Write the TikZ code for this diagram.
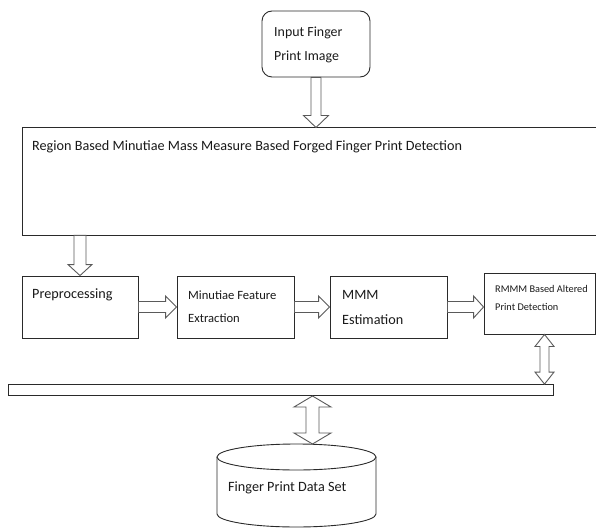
\documentclass[tikz,border=0pt]{standalone}
\usepackage{fontspec}
\setmainfont{Carlito}
\usetikzlibrary{calc}
\definecolor{boxline}{HTML}{2A2A2A}
\definecolor{arrline}{HTML}{5A5A5A}
\definecolor{txt}{HTML}{1A1A1A}
\tikzset{
  boxstyle/.style={draw=boxline, line width=0.9pt, fill=white, inner sep=0pt},
  blk/.style={draw=arrline, line width=0.9pt, fill=white, line join=miter},
  lbl/.style={anchor=west, inner sep=0pt, text=txt, font=\fontsize{14.2}{16}\selectfont},
  lblsmall/.style={lbl, font=\fontsize{12.6}{15}\selectfont},
  lbltiny/.style={lbl, font=\fontsize{10.3}{12}\selectfont},
}
\newcommand\arrowdown[5]{%
  \draw[blk] let \p1=(#1), \p2=(#2) in
   (\x1-#3,\y1) -- (\x1-#3,\y2+#5) -- (\x1-#4,\y2+#5) -- (\x1,\y2) --
   (\x1+#4,\y2+#5) -- (\x1+#3,\y2+#5) -- (\x1+#3,\y1) -- cycle;}
\newcommand\arrowright[5]{%
  \draw[blk] let \p1=(#1), \p2=(#2) in
   (\x1,\y1+#3) -- (\x2-#5,\y1+#3) -- (\x2-#5,\y1+#4) -- (\x2,\y1) --
   (\x2-#5,\y1-#4) -- (\x2-#5,\y1-#3) -- (\x1,\y1-#3) -- cycle;}
\newcommand\arrowud[5]{%
  \draw[blk] let \p1=(#1), \p2=(#2) in
   (\x1,\y1) -- (\x1+#4,\y1-#5) -- (\x1+#3,\y1-#5) -- (\x1+#3,\y2+#5) --
   (\x1+#4,\y2+#5) -- (\x1,\y2) -- (\x1-#4,\y2+#5) -- (\x1-#3,\y2+#5) --
   (\x1-#3,\y1-#5) -- (\x1-#4,\y1-#5) -- cycle;}
\begin{document}
\begin{tikzpicture}[x=1pt,y=1pt]
\useasboundingbox (0,0) rectangle (596,528);
\clip (0,0) rectangle (596,528);
\fill[white] (0,0) rectangle (596,528);

% input
\node[boxstyle, rounded corners=10pt, minimum width=108pt, minimum height=66pt] (inp) at (316,484) {};
\node[lbl, font=\fontsize{13.9}{16}\selectfont] (inpt1) at (274,495) {Input Finger};
\node[lbl, font=\fontsize{13.9}{16}\selectfont] (inpt2) at (274,471) {Print Image};

% main box
\node[boxstyle, anchor=north west, minimum width=580pt, minimum height=107pt] (main) at (22,400.5) {};
\node[lbl] (maint) at (32,381) {Region Based Minutiae Mass Measure Based Forged Finger Print Detection};

% row of boxes
\node[boxstyle, minimum width=116pt, minimum height=62pt] (pre) at (80,221) {};
\node[lbl] (pret) at (32,233) {Preprocessing};

\node[boxstyle, minimum width=117pt, minimum height=62pt] (mfe) at (235.5,221) {};
\node[lblsmall] (mfet1) at (188,233) {Minutiae Feature};
\node[lblsmall] (mfet2) at (188,210) {Extraction};

\node[boxstyle, minimum width=117pt, minimum height=62pt] (mmm) at (388.5,221) {};
\node[lbl] (mmmt1) at (342,233) {MMM};
\node[lbl] (mmmt2) at (342,208) {Estimation};

\node[boxstyle, minimum width=111pt, minimum height=61pt] (rmmm) at (539.5,224.5) {};
\node[lbltiny] (rmmmt1) at (495,239) {RMMM Based Altered};
\node[lbltiny] (rmmmt2) at (495,221) {Print Detection};

% bar
\node[boxstyle, anchor=south west, minimum width=545pt, minimum height=11pt] (bar) at (8,132) {};

% database cylinder
\draw[boxstyle] (217,71) -- (217,14) arc[start angle=180, end angle=360, x radius=79.5pt, y radius=13pt] -- (376,71);
\draw[boxstyle] (296.5,71) ellipse[x radius=79.5pt, y radius=13pt];
\coordinate (dbtop) at (312.5,84);
\node[lbl] (db) at (228,40) {Finger Print Data Set};

% arrows
\arrowdown{inp.south}{main.north}{5pt}{12.5pt}{12pt}
\arrowdown{pre.north |- main.south}{pre.north}{6pt}{12pt}{11pt}
\arrowright{pre.east}{mfe.west}{5.5pt}{11pt}{11pt}
\arrowright{mfe.east}{mmm.west}{5.5pt}{11pt}{11pt}
\arrowright{mmm.east}{mmm.east -| rmmm.west}{5.5pt}{11pt}{10pt}
\arrowud{$(rmmm.south)+(5,0)$}{$(rmmm.south |- bar.north)+(5,0)$}{4.5pt}{9.5pt}{12pt}
\arrowud{dbtop |- bar.south}{dbtop}{6.5pt}{18.5pt}{11pt}
\end{tikzpicture}
\end{document}
